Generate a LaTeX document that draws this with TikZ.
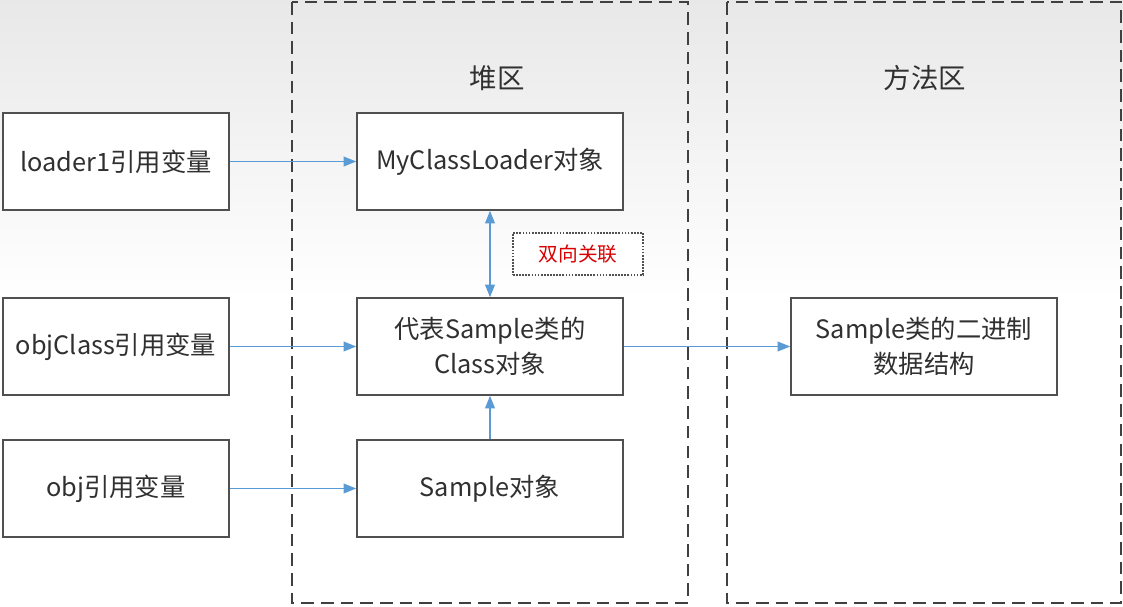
\documentclass[tikz,border=0pt]{standalone}
\usepackage{fontspec}
\setmainfont{Noto Sans CJK SC}
\usetikzlibrary{arrows.meta}
\definecolor{arrowblue}{HTML}{5B9BD5}
\definecolor{boxgray}{HTML}{505050}
\definecolor{textgray}{HTML}{303030}
\tikzset{
  refbox/.style={draw=boxgray, line width=1.1pt, minimum width=5.65cm, minimum height=2.425cm,
    align=center, text=textgray, font=\fontsize{18}{25}\selectfont},
  objbox/.style={refbox, minimum width=6.65cm},
  areabox/.style={draw=boxgray!80!black, line width=1.5pt, dash pattern=on 9pt off 5pt},
  arealabel/.style={text=textgray, font=\fontsize{19.5}{24}\selectfont},
  link/.style={draw=arrowblue, line width=0.9pt, -{Triangle[length=9pt,width=7pt]}},
  note/.style={draw=boxgray, densely dotted, line width=1.2pt, minimum width=3.25cm, minimum height=1.05cm,
    text=red!85!black, font=\fontsize{14}{16}\selectfont}
}
\begin{document}
\begin{tikzpicture}[x=0.025cm, y=-0.025cm]
  \useasboundingbox (0,0) rectangle (1123,606);
  \shade[top color=black!9, bottom color=white] (0,0) rectangle (1123,300);

  % areas
  \draw[areabox] (292,2) rectangle (688,603);
  \draw[areabox] (727,2) rectangle (1121,603);
  \node[arealabel] (heaplabel) at (497,78) {堆区};
  \node[arealabel] (methodlabel) at (925,78) {方法区};

  % references
  \node[refbox, fill=white] (loaderref) at (116,161.5) {loader1引用变量};
  \node[refbox, fill=white] (classref) at (116,346.5) {objClass引用变量};
  \node[refbox, fill=white] (objref) at (116,488.5) {obj引用变量};

  % heap objects
  \node[objbox, fill=white] (loaderobj) at (490,161.5) {MyClassLoader对象};
  \node[objbox, fill=white] (classobj) at (490,346.5) {代表Sample类的\\Class对象};
  \node[objbox, fill=white] (sampleobj) at (490,488.5) {Sample对象};

  % method area
  \node[objbox, fill=white] (binary) at (924,346.5) {Sample类的二进制\\数据结构};

  \node[note, fill=white] (assoc) at (578,254) {双向关联};

  \draw[link] (loaderref) -- (loaderobj);
  \draw[link] (classref) -- (classobj);
  \draw[link] (objref) -- (sampleobj);
  \draw[link] (classobj) -- (binary);
  \draw[link, {Triangle[length=9pt,width=7pt]}-{Triangle[length=9pt,width=7pt]}] (loaderobj) -- (classobj);
  \draw[link] (sampleobj) -- (classobj);
\end{tikzpicture}
\end{document}
